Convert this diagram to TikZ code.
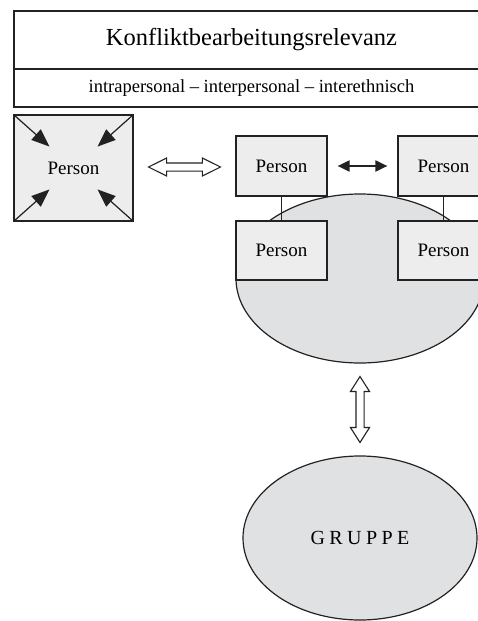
\documentclass[tikz,border=0pt]{standalone}
\usepackage{fontspec}
\setmainfont{Liberation Serif}
\usetikzlibrary{positioning,calc,arrows.meta,shapes.geometric,shapes.arrows}

\definecolor{boxgray}{HTML}{EDEDED}
\definecolor{ovalgray}{HTML}{E0E1E3}
\definecolor{ink}{HTML}{222222}

\begin{document}
\begin{tikzpicture}[x=1pt,y=-1pt]
\tikzset{head/.style={rectangle,draw=ink,line width=1.5pt,fill=white,minimum width=475pt,inner sep=0pt}}
\tikzset{P/.style={rectangle,draw=ink,line width=1.2pt,fill=boxgray,inner sep=0pt,font=\fontsize{19}{22}\selectfont}}
\tikzset{G/.style={ellipse,draw=ink,line width=1.2pt,fill=ovalgray,inner sep=0pt}}
\tikzset{hollow/.style={double arrow,draw=ink,line width=1.1pt,fill=white,inner sep=3.5pt}}
\tikzset{inward/.style={-{Triangle[length=18pt,width=14pt]},line width=1.2pt,draw=ink,fill=ink}}
\tikzset{mutual/.style={{Triangle[length=12pt,width=11pt]}-{Triangle[length=12pt,width=11pt]},line width=2pt,draw=ink,shorten <=10pt,shorten >=10pt}}

  \clip (0,0) rectangle (478,621);

  % header
  \node[head,minimum height=58pt,font=\fontsize{24.5}{28}\selectfont] (title) at (251.5,40) {Konf{}liktbearbeitungsrelevanz};
  \node[head,minimum height=38pt,font=\fontsize{18.5}{22}\selectfont] (levels) at (251.5,88) {intrapersonal -- interpersonal -- interethnisch};

  % intrapersonal
  \node[P,minimum width=119pt,minimum height=106pt] (pl) at (73.5,168) {Person};
  \foreach \c in {north west,north east,south west,south east}
    \draw[inward] (pl.\c) -- ($(pl.\c)!0.6!(pl.center)$);

  % interpersonal
  \node[G,minimum width=248pt,minimum height=169pt] (kreis) at (360,278.5) {};
  \node[P,minimum width=91pt,minimum height=60pt] (p1) at (281.5,166) {Person};
  \node[P,minimum width=91pt,minimum height=60pt] (p2) at (443.5,166) {Person};
  \node[P,minimum width=91pt,minimum height=59pt] (p3) at (281.5,250.5) {Person};
  \node[P,minimum width=91pt,minimum height=59pt] (p4) at (443.5,250.5) {Person};
  \draw[ink,line width=1pt] (p1) -- (p3);
  \draw[ink,line width=1pt] (p2) -- (p4);
  \draw[mutual] (p1) -- (p2);

  \node[hollow,minimum height=72pt,double arrow head extend=5pt,double arrow tip angle=53] (pair) at ($(pl.east)!0.5!(p1.west)$) {};

  % group
  \node[G,minimum width=234pt,minimum height=164pt,font=\fontsize{20}{24}\selectfont] (gruppe) at (360,538)
    {G\hspace{0.22em}R\hspace{0.22em}U\hspace{0.22em}P\hspace{0.22em}P\hspace{0.22em}E};
  \node[hollow,rotate=90,minimum height=66pt,double arrow head extend=5.5pt,double arrow tip angle=65] (link) at ($(kreis.south)!0.5!(gruppe.north)$) {};
\end{tikzpicture}
\end{document}
